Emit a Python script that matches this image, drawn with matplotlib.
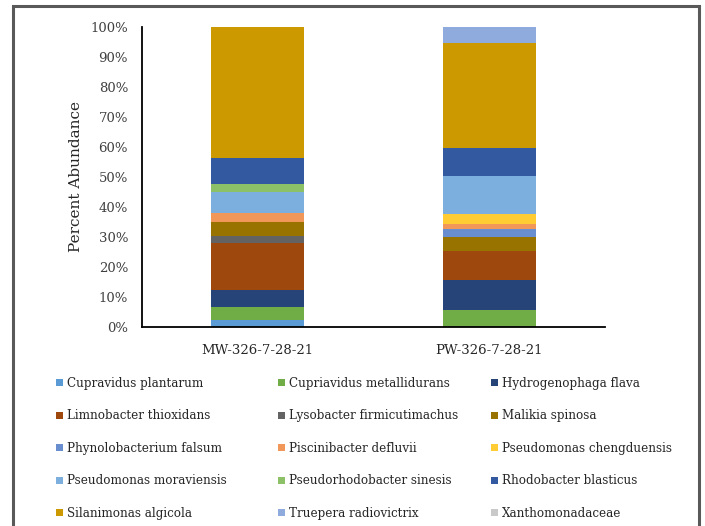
import numpy as np
import matplotlib.pyplot as plt
from matplotlib.patches import Rectangle

plt.rcParams['font.family'] = ['DejaVu Serif']

samples = ['MW-326-7-28-21', 'PW-326-7-28-21']

species = [
    'Cupravidus plantarum', 'Cupriavidus metallidurans', 'Hydrogenophaga flava',
    'Limnobacter thioxidans', 'Lysobacter firmicutimachus', 'Malikia spinosa',
    'Phynolobacterium falsum', 'Piscinibacter defluvii', 'Pseudomonas chengduensis',
    'Pseudomonas moraviensis', 'Pseudorhodobacter sinesis', 'Rhodobacter blasticus',
    'Silanimonas algicola', 'Truepera radiovictrix', 'Xanthomonadaceae',
]

# percent abundance per species, [MW, PW]
abundance = {
    'Cupravidus plantarum':       [2.3, 0.0],
    'Cupriavidus metallidurans':  [4.3, 5.8],
    'Hydrogenophaga flava':       [5.7, 10.0],
    'Limnobacter thioxidans':     [15.6, 9.5],
    'Lysobacter firmicutimachus': [2.5, 0.0],
    'Malikia spinosa':            [4.5, 4.7],
    'Phynolobacterium falsum':    [0.0, 2.6],
    'Piscinibacter defluvii':     [3.0, 1.9],
    'Pseudomonas chengduensis':   [0.0, 3.3],
    'Pseudomonas moraviensis':    [7.0, 12.7],
    'Pseudorhodobacter sinesis':  [2.8, 0.0],
    'Rhodobacter blasticus':      [8.5, 9.1],
    'Silanimonas algicola':       [43.8, 35.1],
    'Truepera radiovictrix':      [0.0, 5.3],
    'Xanthomonadaceae':           [0.0, 0.0],
}

colors = [
    '#5B9BD5', '#70AD47', '#264478',
    '#9E480E', '#636363', '#997300',
    '#698ED0', '#F1975A', '#FFCD33',
    '#7CAFDD', '#8CC168', '#335AA1',
    '#CC9A00', '#8FAADC', '#C9C9C9',
]

fig = plt.figure(figsize=(7.05, 5.26), dpi=100)
ax = fig.add_axes([142 / 705, 1 - 327 / 526, 463 / 705, 300 / 526])

x = np.arange(len(samples))
bottom = np.zeros(len(samples))
handles = []
for name, col in zip(species, colors):
    vals = np.array(abundance[name])
    h = ax.bar(x, vals, width=0.4, bottom=bottom, color=col, label=name)
    handles.append(h)
    bottom += vals

ax.set_xlim(-0.5, 1.5)
ax.set_ylim(0, 100)
ax.set_yticks(np.arange(0, 101, 10))
ax.set_yticklabels([f'{v}%' for v in range(0, 101, 10)])
ax.set_xticks(x)
ax.set_xticklabels(samples)
ax.tick_params(axis='y', length=0, pad=10, labelsize=9.5, labelcolor='#404040')
ax.tick_params(axis='x', length=0, pad=12, labelsize=9.5, labelcolor='#262626')
for s in ['top', 'right']:
    ax.spines[s].set_visible(False)
for s in ['left', 'bottom']:
    ax.spines[s].set_linewidth(1.3)
    ax.spines[s].set_color('black')
fig.text(76 / 705, 1 - 177 / 526, 'Percent Abundance', rotation=90,
         ha='center', va='center', fontsize=11, color='#262626')

# legend laid out as three columns, entries running across the rows
col_x = [50 / 705, 272 / 705, 485 / 705]
for c in range(3):
    hs = handles[c::3]
    leg = fig.legend(hs, [h.get_label() for h in hs], loc='upper left',
                     bbox_to_anchor=(col_x[c], 1 - 371 / 526), frameon=False,
                     fontsize=8.6, handlelength=0.55, handleheight=0.55,
                     handletextpad=0.35, labelspacing=1.63, borderpad=0,
                     labelcolor='#262626')

# outer chart border
fig.patches.append(Rectangle((13 / 705, -0.05), 686 / 705, 1.05 - 6 / 526,
                             transform=fig.transFigure, fill=False,
                             edgecolor='#595959', linewidth=2.2))

fig.savefig('out.png', dpi=100)
